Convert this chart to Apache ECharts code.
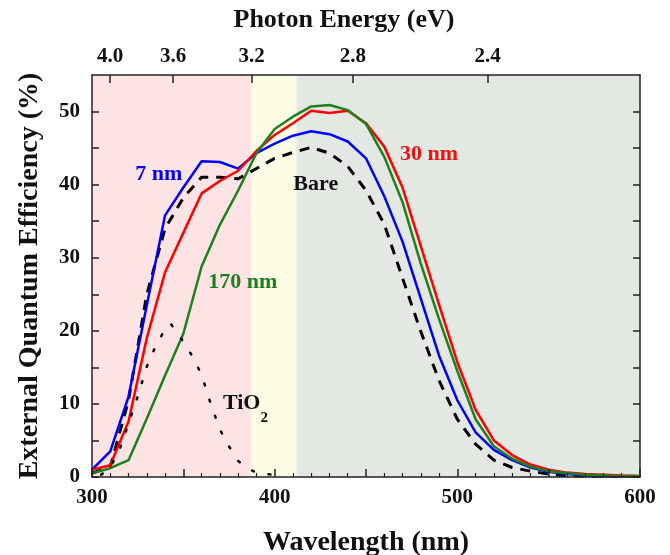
<!DOCTYPE html>
<html>
<head>
<meta charset="utf-8">
<script src="https://cdn.jsdelivr.net/npm/echarts@6/dist/echarts.min.js"></script>
<style>
  html, body { margin: 0; padding: 0; background: #fff; }
  #chart { width: 670px; height: 555px; }
</style>
</head>
<body>
<div id="chart"></div>
<script>
// wavelength grid (nm), 10 nm steps
const wavelength = [300, 310, 320, 330, 340, 350, 360, 370, 380, 390, 400, 410, 420, 430, 440, 450,
  460, 470, 480, 490, 500, 510, 520, 530, 540, 550, 560, 570, 580, 590, 600];

// EQE (%) for each device
const eqeBare = [0.5, 1.4, 10.5, 25.0, 34.0, 38.2, 41.0, 41.0, 40.8, 42.2, 43.6, 44.4, 45.1, 44.3, 42.5, 39.2,
  34.6, 27.2, 19.9, 13.2, 7.9, 4.5, 2.3, 1.3, 0.8, 0.4, 0.2, 0.1, 0.1, 0.1, 0.1];
const eqe7nm = [1.0, 3.5, 11.0, 23.5, 35.8, 39.6, 43.2, 43.1, 42.2, 44.3, 45.6, 46.7, 47.3, 46.9, 45.9, 43.6,
  38.4, 32.2, 24.4, 16.6, 10.5, 6.1, 3.7, 2.3, 1.3, 0.7, 0.4, 0.2, 0.1, 0.1, 0.1];
const eqe30nm = [1.0, 1.6, 7.6, 19.0, 28.0, 33.4, 38.8, 40.5, 41.9, 44.6, 46.8, 48.4, 50.1, 49.8, 50.1, 48.4,
  45.2, 39.6, 31.6, 23.6, 15.7, 9.2, 5.0, 3.0, 1.7, 1.0, 0.6, 0.4, 0.3, 0.2, 0.1];
const eqe170nm = [0.5, 1.2, 2.3, 8.0, 13.9, 19.6, 28.8, 34.5, 39.2, 44.3, 47.6, 49.3, 50.7, 50.9, 50.2, 48.3,
  43.8, 37.6, 29.2, 21.6, 14.5, 7.9, 4.2, 2.5, 1.4, 0.8, 0.5, 0.3, 0.2, 0.1, 0.1];

// bare TiO2 film response (dotted)
const tio2Wavelength = [305, 310, 315, 320, 325, 330, 335, 340, 343, 350, 355, 360, 365, 370, 375, 380, 385, 390, 395, 400];
const tio2Eqe = [0.3, 1.3, 3.7, 7.3, 11.0, 15.1, 18.0, 20.2, 21.0, 18.5, 16.5, 14.0, 10.0, 6.5, 4.2, 2.2, 1.2, 0.6, 0.4, 0.3];

// shaded spectral regions (nm)
const bandEdges = [300, 387, 412, 600];
const bandColors = ['#fde3e3', '#fdfde6', '#e3e8e3'];

// axis ticks
const energyTicks = [4.0, 3.6, 3.2, 2.8, 2.4];
const wavelengthLabels = [300, 400, 500, 600];
const eqeLabels = [0, 10, 20, 30, 40, 50];
const eqeTicks = [0, 5, 10, 15, 20, 25, 30, 35, 40, 45, 50];

// curve names and where their labels sit [nm, %]
const curveNames = ['Bare', '7 nm', '30 nm', '170 nm', 'TiO2'];
const labelAt = [[422.5, 40.0], [336.5, 41.4], [484.5, 44.1], [382.5, 26.6], [384, 9.3]];

const FONT = '"Liberation Serif", "Times New Roman", serif';
const eV = 1239.84;

const chart = echarts.init(document.getElementById('chart'));

const pair = (xs, ys) => xs.map((x, i) => [x, ys[i]]);

function tag(i, color, formatter) {
  return {
    symbol: 'circle',
    symbolSize: 0,
    silent: true,
    data: [{
      coord: labelAt[i],
      label: {
        show: true,
        position: 'inside',
        formatter: formatter || curveNames[i],
        color: color,
        fontFamily: FONT,
        fontWeight: 'bold',
        fontSize: 22,
        rich: {
          base: { fontFamily: FONT, fontWeight: 'bold', fontSize: 22, color: color, lineHeight: 24, verticalAlign: 'top' },
          sub: { fontFamily: FONT, fontWeight: 'bold', fontSize: 15, color: color, lineHeight: 34, verticalAlign: 'bottom' }
        }
      }
    }]
  };
}

const tickFont = { fontFamily: FONT, fontWeight: 'bold', fontSize: 21, color: '#111' };
const frame = { show: true, onZero: false, lineStyle: { color: '#222', width: 1.5 } };
const tickLine = { color: '#222', width: 1.5 };

const bands = [];
for (let i = 0; i < bandColors.length; i++) {
  bands.push([{ xAxis: bandEdges[i], itemStyle: { color: bandColors[i] } }, { xAxis: bandEdges[i + 1] }]);
}

chart.setOption({
  animation: false,
  grid: { left: 92, right: 30, top: 75, bottom: 78, outerBoundsMode: 'none', containLabel: false },
  xAxis: [
    {
      type: 'value', min: 300, max: 600, interval: 50, position: 'bottom', z: 5,
      name: 'Wavelength (nm)', nameLocation: 'middle', nameGap: 52,
      nameTextStyle: { fontFamily: FONT, fontWeight: 'bold', fontSize: 28, color: '#111' },
      axisLine: frame,
      axisTick: { inside: true, length: 8, lineStyle: tickLine },
      minorTick: { show: true, splitNumber: 5, length: 4, lineStyle: { color: '#222', width: 1.2 } },
      axisLabel: Object.assign({ margin: 10, customValues: wavelengthLabels }, tickFont),
      splitLine: { show: false }
    },
    {
      type: 'value', min: 300, max: 600, position: 'top', z: 5,
      name: 'Photon Energy (eV)', nameLocation: 'middle', nameGap: 42,
      nameTextStyle: { fontFamily: FONT, fontWeight: 'bold', fontSize: 26, color: '#111', padding: [0, 44, 0, 0] },
      axisLine: frame,
      axisTick: { inside: true, length: 8, customValues: energyTicks.map(e => eV / e), lineStyle: tickLine },
      axisLabel: Object.assign({ margin: 8, customValues: energyTicks.map(e => eV / e),
        formatter: v => (eV / v).toFixed(1) }, tickFont),
      splitLine: { show: false }
    }
  ],
  yAxis: [
    {
      type: 'value', min: 0, max: 55, interval: 10, position: 'left', z: 5,
      name: 'External Quantum Efficiency (%)', nameLocation: 'middle', nameGap: 48,
      nameTextStyle: { fontFamily: FONT, fontWeight: 'bold', fontSize: 28, color: '#111' },
      axisLine: frame,
      axisTick: { inside: true, length: 7, customValues: eqeTicks, lineStyle: tickLine },
      axisLabel: Object.assign({ margin: 12, customValues: eqeLabels }, tickFont),
      splitLine: { show: false }
    },
    {
      type: 'value', min: 0, max: 55, position: 'right', z: 5,
      axisLine: frame,
      axisTick: { inside: true, length: 7, customValues: eqeTicks, lineStyle: tickLine },
      axisLabel: { show: false },
      splitLine: { show: false }
    }
  ],
  series: [
    {
      name: curveNames[0], type: 'line', showSymbol: false,
      data: pair(wavelength, eqeBare),
      lineStyle: { color: '#000', width: 3, type: [10, 8] },
      markArea: { silent: true, data: bands },
      markPoint: tag(0, '#111')
    },
    {
      name: curveNames[1], type: 'line', showSymbol: false,
      data: pair(wavelength, eqe7nm),
      lineStyle: { color: '#0000ff', width: 2.5 },
      markPoint: tag(1, '#0000ff')
    },
    {
      name: curveNames[2], type: 'line', showSymbol: false,
      data: pair(wavelength, eqe30nm),
      lineStyle: { color: '#ff0000', width: 2.5 },
      markPoint: tag(2, '#ee1111')
    },
    {
      name: curveNames[3], type: 'line', showSymbol: false,
      data: pair(wavelength, eqe170nm),
      lineStyle: { color: '#1e7f1e', width: 2.5 },
      markPoint: tag(3, '#1e7f1e')
    },
    {
      name: curveNames[4], type: 'line', showSymbol: false,
      data: pair(tio2Wavelength, tio2Eqe),
      lineStyle: { color: '#000', width: 2.5, type: [2, 15], cap: 'round' },
      markPoint: tag(4, '#111', '{base|TiO}{sub|2}')
    }
  ]
});
</script>
</body>
</html>
